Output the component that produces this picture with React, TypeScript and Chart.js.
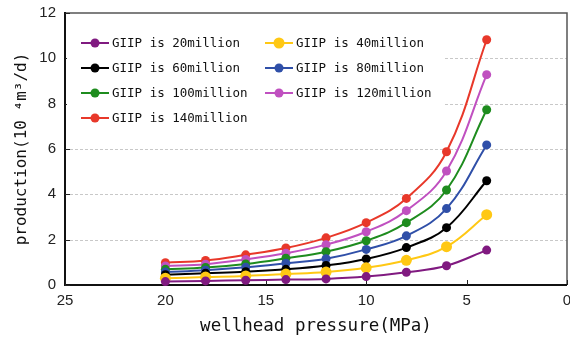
import React, { useEffect, useRef } from "react";
import { Chart, registerables } from "chart.js";

Chart.register(...registerables);

const pressures = [20, 18, 16, 14, 12, 10, 8, 6, 4];
const giip20 = [0.15, 0.18, 0.21, 0.24, 0.27, 0.37, 0.56, 0.85, 1.54];
const giip40 = [0.3, 0.35, 0.4, 0.48, 0.57, 0.76, 1.09, 1.69, 3.1];
const giip60 = [0.45, 0.52, 0.59, 0.69, 0.86, 1.15, 1.65, 2.53, 4.6];
const giip80 = [0.57, 0.65, 0.78, 0.96, 1.16, 1.57, 2.17, 3.37, 6.18];
const giip100 = [0.69, 0.77, 0.93, 1.18, 1.47, 1.95, 2.75, 4.19, 7.73];
const giip120 = [0.84, 0.92, 1.13, 1.4, 1.78, 2.35, 3.28, 5.03, 9.28];
const giip140 = [0.98, 1.08, 1.33, 1.63, 2.08, 2.75, 3.82, 5.88, 10.82];

const seriesLabels = [
  "GIIP is 20million",
  "GIIP is 40million",
  "GIIP is 60million",
  "GIIP is 80million",
  "GIIP is 100million",
  "GIIP is 120million",
  "GIIP is 140million",
];
const seriesValues = [giip20, giip40, giip60, giip80, giip100, giip120, giip140];
const seriesColors = ["#801a80", "#ffc814", "#000000", "#2f4fa8", "#1e8c1e", "#c050c0", "#e8382a"];
const pointSizes = [4.5, 5.5, 4.5, 4.5, 4.5, 4.5, 4.5];

const xTickValues = [25, 20, 15, 10, 5, 0];
const yTickValues = [0, 2, 4, 6, 8, 10, 12];
const yGridValues = [2, 4, 6, 8, 10];

const xTitle = "wellhead pressure(MPa)";
const yTitle = "production(10 \u2074m\u00b3/d)";

const framePlugin = {
  id: "frame",
  beforeDatasetsDraw(chart: any) {
    const { ctx, chartArea, scales } = chart;
    const { left, right, top, bottom } = chartArea;
    const x = scales.x;
    const y = scales.y;
    ctx.save();
    ctx.strokeStyle = "#c8c8c8";
    ctx.lineWidth = 1;
    ctx.setLineDash([3, 2]);
    for (const v of yGridValues) {
      const py = Math.round(y.getPixelForValue(v)) + 0.5;
      ctx.beginPath();
      ctx.moveTo(left, py);
      ctx.lineTo(right, py);
      ctx.stroke();
    }
    ctx.setLineDash([]);
    ctx.strokeStyle = "#555";
    ctx.lineWidth = 1.5;
    ctx.beginPath();
    ctx.moveTo(left, top);
    ctx.lineTo(right, top);
    ctx.lineTo(right, bottom);
    ctx.stroke();
    ctx.strokeStyle = "#111";
    ctx.lineWidth = 2;
    ctx.beginPath();
    ctx.moveTo(left, top - 1);
    ctx.lineTo(left, bottom);
    ctx.lineTo(right, bottom);
    ctx.stroke();
    ctx.lineWidth = 1;
    ctx.strokeStyle = "#222";
    for (const v of xTickValues) {
      const px = Math.round(x.getPixelForValue(v)) + 0.5;
      ctx.beginPath();
      ctx.moveTo(px, bottom);
      ctx.lineTo(px, bottom - 5);
      ctx.stroke();
    }
    for (const v of yTickValues) {
      const py = Math.round(y.getPixelForValue(v)) + 0.5;
      ctx.beginPath();
      ctx.moveTo(left, py);
      ctx.lineTo(left + 5, py);
      ctx.stroke();
    }
    ctx.restore();
  },
  afterDatasetsDraw(chart: any) {
    const { ctx, chartArea } = chart;
    const { left } = chartArea;
    ctx.save();
    ctx.fillStyle = "#ffffff";
    ctx.fillRect(left + 2, 28, 445 - left - 2, 102);
    ctx.font = "12.5px 'DejaVu Sans Mono'";
    ctx.textBaseline = "middle";
    ctx.textAlign = "left";
    const colX = [81, 265];
    const rowY = [43, 68, 93, 118];
    seriesLabels.forEach((label, i) => {
      const cx = colX[i % 2];
      const cy = rowY[Math.floor(i / 2)];
      ctx.strokeStyle = seriesColors[i];
      ctx.lineWidth = 2;
      ctx.beginPath();
      ctx.moveTo(cx, cy);
      ctx.lineTo(cx + 28, cy);
      ctx.stroke();
      ctx.fillStyle = seriesColors[i];
      ctx.beginPath();
      ctx.arc(cx + 14, cy, pointSizes[i], 0, Math.PI * 2);
      ctx.fill();
      ctx.fillStyle = "#111";
      ctx.fillText(label, cx + 31, cy + 1);
    });
    ctx.restore();
  },
};

export default function App() {
  const canvasRef = useRef<HTMLCanvasElement | null>(null);

  useEffect(() => {
    document.body.style.margin = "0";
    const canvas = canvasRef.current;
    if (!canvas) return;
    const chart = new Chart(canvas, {
      type: "line",
      data: {
        datasets: seriesValues.map((vals, i) => ({
          label: seriesLabels[i],
          data: pressures.map((p, j) => ({ x: p, y: vals[j] })),
          borderColor: seriesColors[i],
          backgroundColor: seriesColors[i],
          pointBackgroundColor: seriesColors[i],
          pointBorderWidth: 0,
          pointRadius: pointSizes[i],
          borderWidth: 2,
          tension: 0.4,
          fill: false,
          clip: false as any,
        })),
      },
      options: {
        animation: false,
        responsive: false,
        devicePixelRatio: 1,
        layout: { autoPadding: false, padding: { top: 13, right: 3, left: 0, bottom: 0 } },
        plugins: {
          legend: { display: false },
          tooltip: { enabled: false },
        },
        scales: {
          x: {
            type: "linear",
            reverse: true,
            min: 0,
            max: 25,
            grid: { display: false, drawTicks: false },
            border: { display: false },
            ticks: {
              stepSize: 5,
              padding: 7,
              color: "#222",
              font: { family: "'Liberation Sans'", size: 15 },
            },
            title: {
              display: true,
              text: xTitle,
              color: "#111",
              font: { family: "'DejaVu Sans Mono'", size: 17.5 },
              padding: { top: 0, bottom: 9 },
            },
            afterFit(scale: any) {
              scale.height = 61;
              scale.paddingLeft = 0;
              scale.paddingRight = 0;
              scale.paddingTop = 0;
              scale.paddingBottom = 0;
            },
          },
          y: {
            type: "linear",
            min: 0,
            max: 12,
            grid: { display: false, drawTicks: false },
            border: { display: false },
            ticks: {
              stepSize: 2,
              padding: 9,
              color: "#222",
              font: { family: "'Liberation Sans'", size: 15 },
            },
            title: {
              display: true,
              text: yTitle,
              color: "#111",
              font: { family: "'DejaVu Sans Mono'", size: 16 },
              padding: { top: 12, bottom: 0 },
            },
            afterFit(scale: any) {
              scale.width = 65;
              scale.paddingTop = 0;
              scale.paddingBottom = 0;
              scale.paddingLeft = 0;
              scale.paddingRight = 0;
            },
          },
        },
      },
      plugins: [framePlugin],
    });
    return () => chart.destroy();
  }, []);

  return (
    <div style={{ width: 570, height: 346, background: "#fff" }}>
      <canvas ref={canvasRef} width={570} height={346} />
    </div>
  );
}
